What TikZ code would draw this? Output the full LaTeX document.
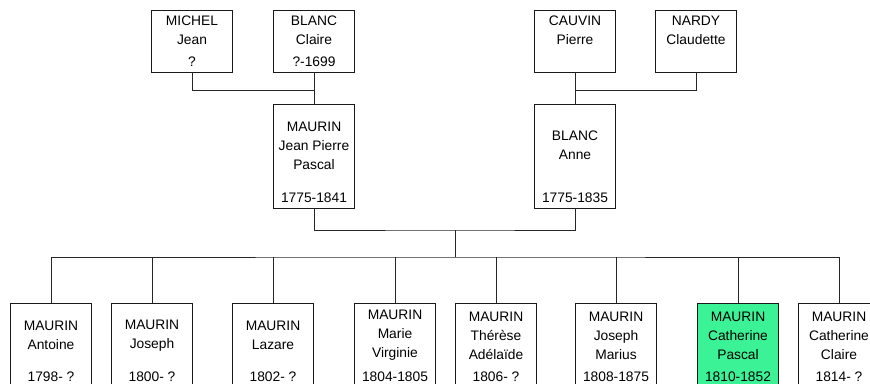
\documentclass[tikz,border=0pt]{standalone}
\usepackage{fontspec}
\setmainfont{Liberation Sans}
\definecolor{selgreen}{RGB}{60,242,150}
\begin{document}
\begin{tikzpicture}[x=1pt,y=-1pt]
\tikzstyle{every node}=[font=\fontsize{13.8}{19}\selectfont]
\tikzstyle{person}=[draw=black!90,line width=0.9pt,rectangle,minimum width=81pt,inner sep=0pt,fill=white]
\tikzstyle{gen1}=[person,minimum height=62pt]
\tikzstyle{gen2}=[person,minimum height=104pt]
\tikzstyle{gen3}=[person,minimum height=85pt,anchor=north]
\tikzstyle{nm}=[draw=none,fill=none,align=center,inner sep=0pt,yshift=10.5pt]
\tikzstyle{dt}=[draw=none,fill=none,anchor=base,inner sep=0pt,yshift=6pt]
\tikzstyle{dt3}=[dt,yshift=1.8pt]
\tikzstyle{link}=[draw=black!85,line width=0.9pt]
\useasboundingbox (0,0) rectangle (870,383);
\clip (0,0) rectangle (870,383);
% grandparents
\node[gen1,label={[nm]center:{MICHEL\\Jean}},label={[dt]south:?}](g1) at (192,41) {};
\node[gen1,label={[nm]center:{BLANC\\Claire}},label={[dt]south:?-1699}](g2) at (314,41) {};
\node[gen1,label={[nm]center:{CAUVIN\\Pierre}}](g3) at (575,41) {};
\node[gen1,label={[nm]center:{NARDY\\Claudette}}](g4) at (696,41) {};
% parents
\node[gen2,label={[nm]center:{MAURIN\\Jean Pierre\\Pascal}},label={[dt]south:1775-1841}](m1) at (314,156) {};
\node[gen2,label={[nm]center:{BLANC\\Anne}},label={[dt]south:1775-1835}](m2) at (575,156) {};
% children
\node[gen3,label={[nm]center:{MAURIN\\Antoine}},label={[dt3]south:1798- ?}](c1) at (51,303) {};
\node[gen3,label={[nm]center:{MAURIN\\Joseph}},label={[dt3]south:1800- ?}](c2) at (152,303) {};
\node[gen3,label={[nm]center:{MAURIN\\Lazare}},label={[dt3]south:1802- ?}](c3) at (273,303) {};
\node[gen3,label={[nm]center:{MAURIN\\Marie\\Virginie}},label={[dt3]south:1804-1805}](c4) at (395,303) {};
\node[gen3,label={[nm]center:{MAURIN\\Thérèse\\Adélaïde}},label={[dt3]south:1806- ?}](c5) at (496,303) {};
\node[gen3,label={[nm]center:{MAURIN\\Joseph\\Marius}},label={[dt3]south:1808-1875}](c6) at (616,303) {};
\node[gen3,fill=selgreen,label={[nm]center:{MAURIN\\Catherine\\Pascal}},label={[dt3]south:1810-1852}](c7) at (738,303) {};
\node[gen3,label={[nm]center:{MAURIN\\Catherine\\Claire}},label={[dt3]south:1814- ?}](c8) at (839,303) {};
% junctions
\coordinate (j1) at (314,90);
\coordinate (j2) at (575,90);
\coordinate (j3) at (455,230);
\coordinate (j4) at (455,257);
\draw[link] (g1.south) |- (j1);
\draw[link] (g2.south) -- (m1.north);
\draw[link] (g4.south) |- (j2);
\draw[link] (g3.south) -- (m2.north);
\draw[link] (m1.south) |- (j3) -| (m2.south);
\draw[link] (j3) -- (j4);
\draw[link] (c1.north) |- (j4) -| (c8.north);
\draw[link] (c2.north) -- (c2.north |- j4);
\draw[link] (c3.north) -- (c3.north |- j4);
\draw[link] (c4.north) -- (c4.north |- j4);
\draw[link] (c5.north) -- (c5.north |- j4);
\draw[link] (c6.north) -- (c6.north |- j4);
\draw[link] (c7.north) -- (c7.north |- j4);
\end{tikzpicture}
\end{document}
